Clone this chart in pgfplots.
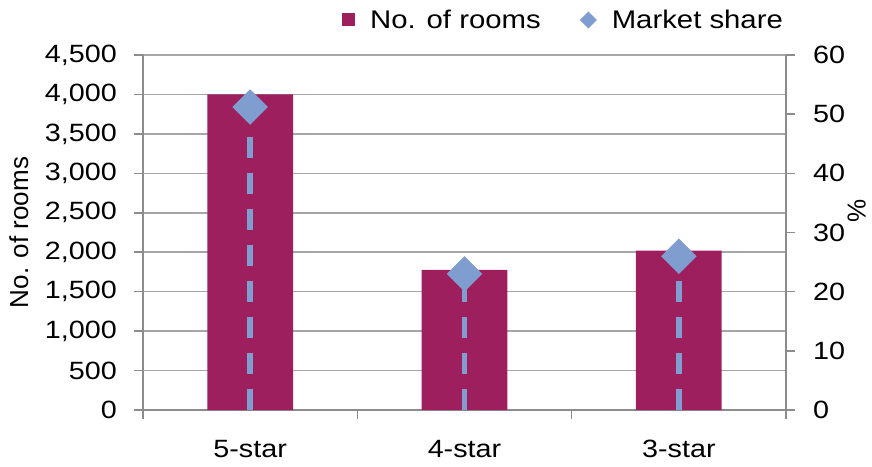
\documentclass[border=0pt]{standalone}
\usepackage{fontspec}
\setmainfont{Liberation Sans}[FakeStretch=1.15]
\newfontfamily\plainfont{Liberation Sans}
\usepackage{pgfplots}
\pgfplotsset{compat=1.18}

\definecolor{barcol}{HTML}{9E1F5D}
\definecolor{diacol}{HTML}{7F9DCF}
\definecolor{gridgray}{HTML}{A6A6A6}
\definecolor{axisgray}{HTML}{8C8C8C}

\pgfplotsset{
  common/.style={
    at={(143pt,56pt)}, anchor=south west,
    scale only axis, width=643pt, height=355pt,
    xmin=-0.5, xmax=2.5,
    tick align=outside,
    major tick length=9pt,
    tick style={draw=axisgray, line width=1.5pt},
    axis line style={draw=axisgray, line width=1.5pt, -},
    ticklabel style={font=\fontsize{25}{30}\selectfont},
    /pgf/number format/assume math mode=true,
    /pgf/number format/1000 sep={,},
  }
}

\begin{document}
\begin{tikzpicture}
\useasboundingbox (0,0) rectangle (872pt,466pt);

\begin{axis}[
    common,
    axis y line*=left, axis x line*=bottom,
    ymin=0, ymax=4500, ytick={0,500,...,4500},
    ymajorgrids, grid style={draw=gridgray, line width=1.5pt},
    xtick={-0.5,0.5,1.5,2.5}, xticklabels={},
    extra x ticks={0,1,2},
    extra x tick labels={5-star,4-star,3-star},
    extra x tick style={major tick length=0pt,
      xticklabel style={anchor=north, inner sep=0pt, yshift=-30pt}},
    yticklabel style={anchor=east, inner sep=0pt, xshift=-17pt},
    ylabel={No. of rooms},
    ylabel style={font=\plainfont\fontsize{26}{30}\selectfont, inner sep=0pt,
      at={(axis description cs:-0.2084,0.5)}, anchor=north},
]
\addplot[ybar, bar width=0.4, fill=barcol, draw=none]
  coordinates {(0,4000) (1,1775) (2,2020)};
\end{axis}

\begin{axis}[
    common,
    axis y line*=right, axis x line=none,
    ymin=0, ymax=60, ytick={0,10,...,60},
    xtick=\empty,
    yticklabel style={anchor=west, inner sep=0pt, xshift=18pt},
    ylabel={\%},
    ylabel style={font=\plainfont\fontsize{26}{30}\selectfont, inner sep=0pt,
      at={(axis description cs:1.0955,0.56)}, anchor=north},
    legend columns=2,
    legend style={draw=none, fill=none, inner sep=0pt,
      at={(axis description cs:0.3095,1.0986)}, anchor=west,
      font=\fontsize{25.5}{30}\selectfont,
      nodes={inner sep=0pt, anchor=west},
      /tikz/every odd column/.append style={column sep=15pt},
      /tikz/every even column/.append style={column sep=39pt}},
]
\addlegendimage{legend image code/.code={\path[fill=barcol, draw=none] (0pt,-6.5pt) rectangle (13pt,6.5pt);}}
\addlegendentry{No. of rooms}
\addplot[ycomb, draw=diacol, line width=5.5pt, dash pattern=on 21pt off 15pt,
    mark=square*, mark size=9.8pt,
    mark options={solid, rotate=45, fill=diacol, draw=none},
    legend image code/.code={\path[fill=diacol, draw=none] (0pt,0pt) -- (8.5pt,8.5pt) -- (17pt,0pt) -- (8.5pt,-8.5pt) -- cycle;}]
  coordinates {(0,51.2) (1,23.0) (2,26.0)};
\addlegendentry{Market share}
\end{axis}
\end{tikzpicture}
\end{document}
